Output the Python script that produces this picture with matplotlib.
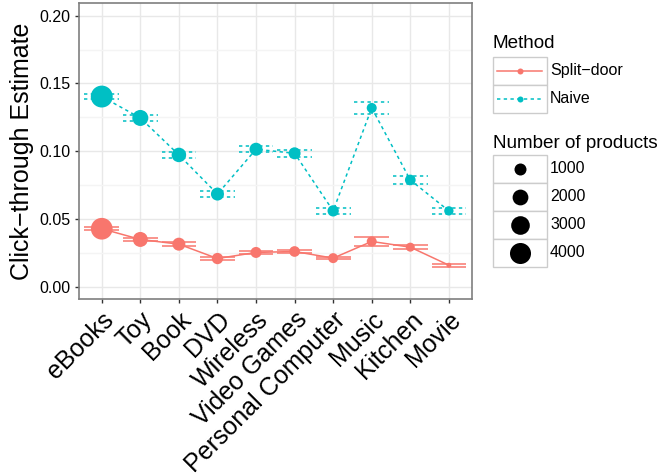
import numpy as np
import matplotlib
matplotlib.use("Agg")
import matplotlib.pyplot as plt
from matplotlib.patches import Rectangle

plt.rcParams['font.family'] = ['Liberation Sans', 'DejaVu Sans']

categories = ["eBooks", "Toy", "Book", "DVD", "Wireless", "Video Games",
              "Personal Computer", "Music", "Kitchen", "Movie"]
naive_est = [0.1403, 0.1245, 0.0972, 0.0683, 0.1014, 0.0984, 0.0559, 0.1319, 0.0787, 0.0559]
naive_err = [0.0017, 0.0021, 0.0021, 0.0022, 0.0022, 0.0027, 0.0021, 0.0042, 0.0027, 0.0021]
naive_n = [4400, 2070, 1620, 1230, 1230, 1000, 855, 620, 740, 515]
split_est = [0.0427, 0.0348, 0.0313, 0.0207, 0.0252, 0.0259, 0.0210, 0.0333, 0.0291, 0.0158]
split_err = [0.0012, 0.0012, 0.0014, 0.0010, 0.0010, 0.0012, 0.0010, 0.0030, 0.0017, 0.0012]
split_n = [4310, 1760, 1230, 855, 800, 740, 620, 620, 470, 120]
legend_n = [1000, 2000, 3000, 4000]

SPLIT_COL = "#F8766D"
NAIVE_COL = "#00BFC4"
N_MIN, N_MAX = 100, 4400
DPI = 100


def size_px(n):
    # ggplot-like area scale: diameter grows with sqrt of rescaled n
    r = np.clip((np.asarray(n, float) - N_MIN) / (N_MAX - N_MIN), 0, 1)
    return 3.65 * (1 + 5 * np.sqrt(r))


def area_pt(n):
    return (size_px(n) * 72.0 / DPI) ** 2


fig = plt.figure(figsize=(6.6, 4.76), dpi=DPI)
ax = fig.add_axes([79 / 660, 1 - 299.3 / 476, (472 - 79) / 660, (299.3 - 2.7) / 476])

x = np.arange(1, len(categories) + 1)
dash = (0, (2.2, 2.2))

for est, err, n, col, ls in [(split_est, split_err, split_n, SPLIT_COL, '-'),
                             (naive_est, naive_err, naive_n, NAIVE_COL, dash)]:
    est = np.array(est)
    err = np.array(err)
    ax.hlines(est + err, x - 0.45, x + 0.45, colors=col, linestyles=ls, lw=1.1, zorder=3)
    ax.hlines(est - err, x - 0.45, x + 0.45, colors=col, linestyles=ls, lw=1.1, zorder=3)
    ax.vlines(x, est - err, est + err, colors=col, linestyles=ls, lw=1.1, zorder=3)
    ax.plot(x, est, color=col, ls=ls, lw=1.1, zorder=4)
    ax.scatter(x, est, s=area_pt(n), color=col, lw=0, zorder=5)

ax.set_xlim(0.41, 10.6)
ax.set_ylim(-0.0094, 0.2096)
ax.set_yticks([0, 0.05, 0.10, 0.15, 0.20])
ax.set_yticks([0.025, 0.075, 0.125, 0.175], minor=True)
ax.set_yticklabels(["0.00", "0.05", "0.10", "0.15", "0.20"], fontsize=11.5)
ax.set_xticks(x)
ax.set_xticklabels(categories, rotation=45, ha='right', va='top',
                   rotation_mode='anchor', fontsize=18)
ax.tick_params(axis='both', which='major', length=3, width=1, color='#333333', pad=3)
ax.tick_params(axis='y', which='minor', length=0)
ax.grid(True, which='major', color='#E8E8E8', lw=1.0)
ax.grid(True, which='minor', axis='y', color='#F4F4F4', lw=1.0)
ax.set_axisbelow(True)
for sp in ax.spines.values():
    sp.set_color('#7F7F7F')
    sp.set_linewidth(1.2)
ax.set_ylabel("Click\u2212through Estimate", fontsize=18, labelpad=4)

# legends drawn in pixel coordinates
lg = fig.add_axes([0, 0, 1, 1])
lg.set_xlim(0, 660)
lg.set_ylim(476, 0)
lg.axis('off')

bx0, bx1 = 492.7, 547.3
lg.text(bx0, 44, "Method", fontsize=13.6, va='center', ha='left')
for i, (lab, col, ls) in enumerate([("Split\u2212door", SPLIT_COL, '-'),
                                    ("Naive", NAIVE_COL, dash)]):
    y0 = 56.7 + i * 28
    lg.add_patch(Rectangle((bx0, y0), bx1 - bx0, 28, fc='white', ec='#CCCCCC', lw=1))
    yc = y0 + 14
    lg.plot([497, 542], [yc, yc], color=col, ls=ls, lw=1.1)
    lg.scatter([520], [yc], s=(6 * 0.72) ** 2, color=col, lw=0, zorder=5)
    lg.text(550, yc, lab, fontsize=11.5, va='center', ha='left')

lg.text(bx0, 143.3, "Number of products", fontsize=13.6, va='center', ha='left')
for i, n in enumerate(legend_n):
    y0 = 155 + i * 27.9
    lg.add_patch(Rectangle((bx0, y0), bx1 - bx0, 27.9, fc='white', ec='#CCCCCC', lw=1))
    yc = y0 + 13.95
    lg.scatter([520], [yc], s=area_pt(n), color='black', lw=0, zorder=5)
    lg.text(550, yc, str(n), fontsize=11.5, va='center', ha='left')

fig.savefig("out.png", dpi=DPI)
